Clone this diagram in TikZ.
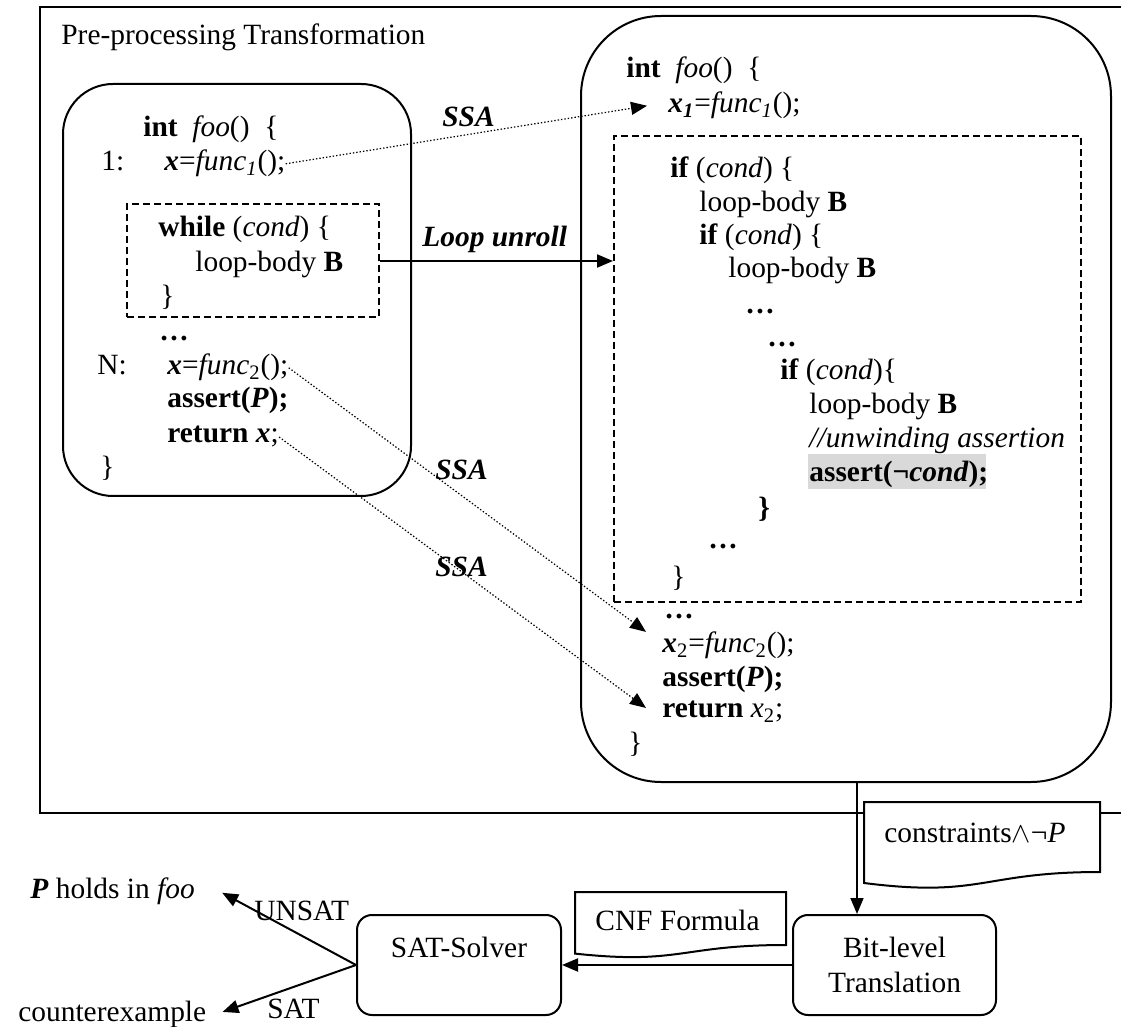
\documentclass[tikz,border=0pt]{standalone}
\usepackage{fontspec}
\setmainfont{Liberation Serif}
\usetikzlibrary{arrows.meta,calc}
\begin{document}
\begin{tikzpicture}[x=0.5pt,y=-0.5pt,
  every node/.style={inner sep=0pt, font=\fontsize{14.7pt}{17pt}\selectfont},
  code/.style={anchor=base west},
  ctr/.style={anchor=base},
  frame/.style={draw, line width=1pt},
  codebox/.style={draw, line width=1pt, rounded corners=#1},
  loopbox/.style={draw, line width=1pt, dash pattern=on 3.5pt off 2pt},
  procbox/.style={draw, line width=1pt, rounded corners=7.5pt,
                  minimum height=50pt},
  docshape/.style={draw, fill=white, line width=1pt},
  tip/.style={-{Triangle[length=8pt,width=6.5pt]}},
  flow/.style={tip, line width=1pt},
  ssa/.style={tip, line width=0.6pt, dash pattern=on 0.7pt off 1pt},
  hl/.style={fill=black!15}
]
\useasboundingbox (0,0) rectangle (1121,1027);
\clip (0,0) rectangle (1121,1027);

% outer stage frame (open to the right)
\draw[frame] (40,7) rectangle (1140,813);
\node[code] (title) at (61,45) {Pre-processing Transformation};

% ---------------- original function ----------------
\node[codebox=25pt, minimum width=174pt, minimum height=206pt] (lbox) at (237,290) {};
\node[loopbox, minimum width=126pt, minimum height=56.5pt] (lloop) at (253,261) {};

\node[code] (l0)  at (143,137) {\textbf{int}\ \ \textit{foo}()\ \ \{};
\node[code] (l1n) at (101,171) {1:};
\node[code] (l1)  at (164,171) {\textbf{\textit{x}}=\textit{func\textsubscript{1}}();};
\node[code] (l2)  at (158,237) {\textbf{while} (\textit{cond}) \{};
\node[code] (l3)  at (195,272) {loop-body \textbf{B}};
\node[code] (l4)  at (160,306) {\}};
\node[code] (l5)  at (159,341) {\textbf{…}};
\node[code] (l6n) at (97,375)  {N:};
\node[code] (l6)  at (167,375) {\textbf{\textit{x}}=\textit{func}\textsubscript{2}();};
\node[code] (l7)  at (167,408) {\textbf{assert(\textit{P});}};
\node[code] (l8)  at (167,443) {\textbf{return} \textbf{\textit{x}};};
\node[code] (l9)  at (100,477) {\}};

% ---------------- transformed function ----------------
\node[codebox=40pt, minimum width=265pt, minimum height=383pt] (rbox) at (846,399) {};
\node[loopbox, minimum width=233.5pt, minimum height=233pt] (rloop) at (847.5,369) {};

\fill[hl] (808,454) rectangle (986,489);

\node[code] (r0)  at (626,78)  {\textbf{int}\ \ \textit{foo}()\ \ \{};
\node[code] (r1)  at (668,113) {\textbf{\textit{x\textsubscript{1}}}=\textit{func\textsubscript{1}}();};
\node[code] (r2)  at (670,178) {\textbf{if} (\textit{cond}) \{};
\node[code] (r3)  at (699,212) {loop-body \textbf{B}};
\node[code] (r4)  at (699,245) {\textbf{if} (\textit{cond}) \{};
\node[code] (r5)  at (728,278) {loop-body \textbf{B}};
\node[code] (r6)  at (745,314) {\textbf{…}};
\node[code] (r7)  at (767,347) {\textbf{…}};
\node[code] (r8)  at (780,380) {\textbf{if} (\textit{cond})\{};
\node[code] (r9)  at (809,414) {loop-body \textbf{B}};
\node[code] (r10) at (809,448) {\textit{//unwinding assertion}};
\node[code] (r11) at (809,482) {\textbf{assert(¬\textit{cond});}};
\node[code] (r12) at (758,518) {\textbf{\}}};
\node[code] (r13) at (708,549) {\textbf{…}};
\node[code] (r14) at (671,587) {\}};
\node[code] (r15) at (664,618) {\textbf{…}};
\node[code] (r16) at (662,653) {\textbf{\textit{x}}\textsubscript{2}=\textit{func}\textsubscript{2}();};
\node[code] (r17) at (662,687) {\textbf{assert(\textit{P});}};
\node[code] (r18) at (662,718) {\textbf{return} \textit{x}\textsubscript{2};};
\node[code] (r19) at (628,753) {\}};

% ---------------- transformation connectors ----------------
\draw[ssa] (l1.east) -- ($(r1.west)+(-21,0)$);
\node[code] (ssa1) at (442,127) {\textbf{\textit{SSA}}};

\draw[flow] (lloop.east) -- (lloop.east -| rloop.west);
\node[code] (unroll) at (422,247) {\textbf{\textit{Loop unroll}}};

\draw[ssa] (l6.east) -- ($(r16.north west)+(-16,0)$);
\node[code] (ssa2) at (435,480) {\textbf{\textit{SSA}}};

\draw[ssa] (l8.east) -- ($(r18.west)+(-16,-4)$);
\node[code] (ssa3) at (435,577) {\textbf{\textit{SSA}}};

% ---------------- back end ----------------
\draw[docshape] (864,802) -- (1100,802) -- (1100,872)
  .. controls (982,872) and (982,898) .. (864,883) -- cycle;
\node[code] (cons) at (884,842) {constraints$\wedge$¬\textit{P}};

\node[procbox, minimum width=101.5pt] (bit) at (894.5,965) {};
\node[ctr] (bit1) at (894.5,957) {Bit-level};
\node[ctr] (bit2) at (894.5,992) {Translation};

\node[procbox, minimum width=102pt] (sat) at (459,965) {};
\node[ctr] (sattxt) at (459,957) {SAT-Solver};

\draw[docshape] (575,892) -- (786,892) -- (786,945)
  .. controls (680.5,945) and (680.5,965) .. (575,953.6) -- cycle;
\node[code] (cnf) at (595,930) {CNF Formula};

\coordinate (down) at (857,782);
\draw[flow, line width=0.8pt] (down) -- (down |- bit.north);
\draw[flow] (bit.west) -- (sat.east);

\node[code] (holds) at (30,898) {\textbf{\textit{P}} holds in \textit{foo}};
\node[code] (cex) at (18,1021) {counterexample};
\draw[flow] (sat.west) -- ($(holds.east)+(27,2)$);
\draw[flow] (sat.west) -- ($(cex.east)+(16,-2)$);
\node[code] (unsat) at (254,920) {UNSAT};
\node[code] (satl) at (267,1018) {SAT};
\end{tikzpicture}
\end{document}
